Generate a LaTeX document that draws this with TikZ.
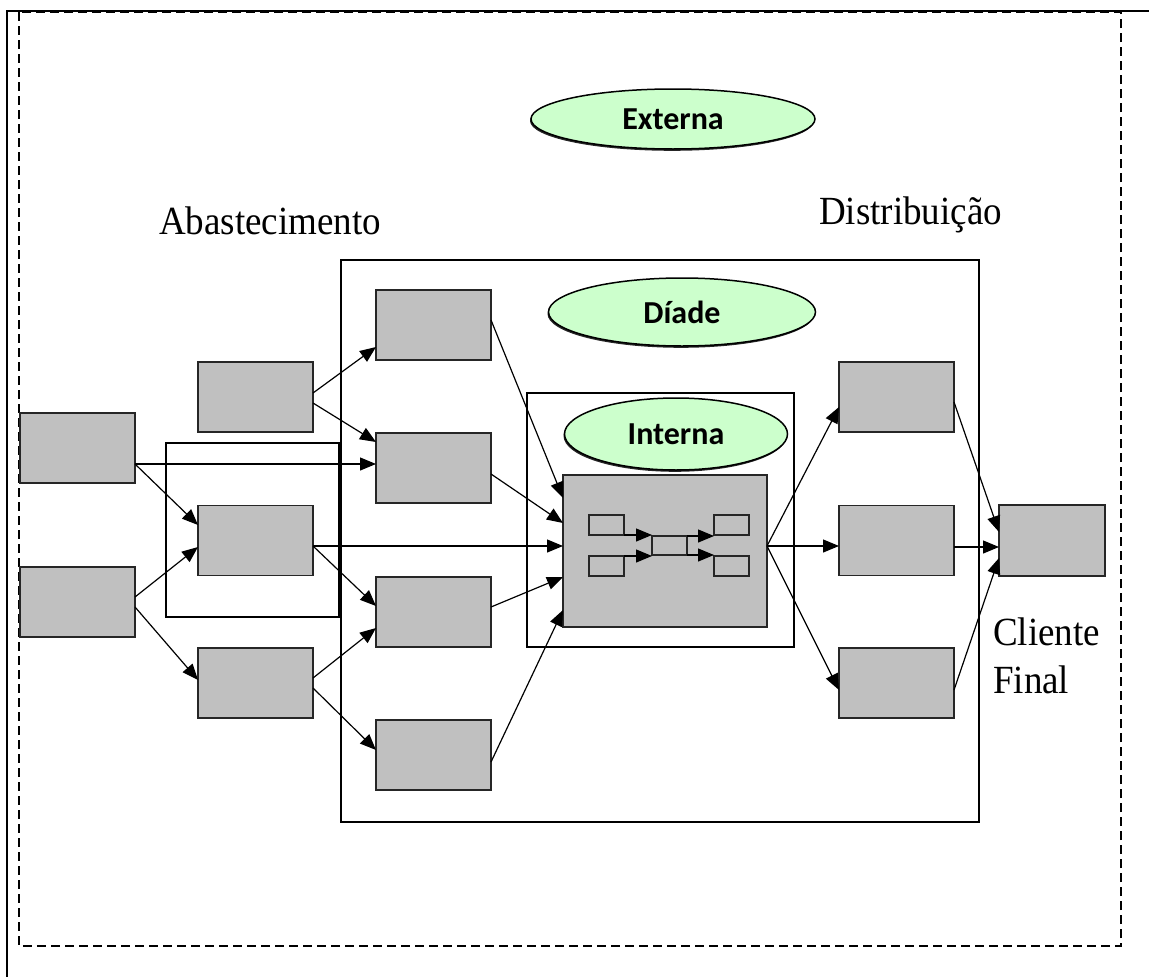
\documentclass[tikz,border=0pt]{standalone}
\usepackage{fontspec}
\setmainfont{Liberation Serif}
\newfontfamily\calib{Carlito}
\usetikzlibrary{arrows.meta,shadows,shapes.geometric,calc}
\definecolor{boxgray}{HTML}{C0C0C0}
\definecolor{ovalgreen}{HTML}{CCFFCC}
\newcommand{\tallerText}[1]{\scalebox{1}[1.08]{#1}}
\begin{document}
\begin{tikzpicture}[x=1pt,y=-1pt,
  box/.style={draw=black!85, line width=1.4pt, fill=boxgray, minimum width=115pt, minimum height=70pt, inner sep=0pt, outer sep=0pt},
  sbox/.style={draw=black!85, line width=1.2pt, fill=boxgray, minimum width=35pt, minimum height=20pt, inner sep=0pt, outer sep=0pt},
  frame/.style={draw=black, line width=1.2pt},
  oval/.style={ellipse, draw=black, line width=1.5pt, fill=ovalgreen, inner sep=0pt,
    font=\calib\bfseries\fontsize{32}{34}\selectfont,
    drop shadow={shadow xshift=-1pt, shadow yshift=-1.8pt, fill=black, opacity=0.85}},
  arr/.style={-{Triangle[length=16pt,width=13pt]}, line width=1.2pt},
  lbl/.style={font=\fontsize{37}{40}\selectfont, inner sep=0pt, anchor=base west}]
\useasboundingbox (0,0) rectangle (1149,977);
% outer borders
\draw[line width=2.5pt] (7,977) -- (7,11) -- (1149,11);
\draw[line width=1.8pt, dash pattern=on 9pt off 5pt] (19,12) rectangle (1121,946);
% frames
\draw[frame] (341,260) rectangle (979,822);
\draw[frame] (527,393) rectangle (794,647);
\draw[frame] (166,443) rectangle (339,617);
% labels
\node[lbl] (abast) at (159,234) {\tallerText{Abastecimento}};
\node[lbl] (distr) at (819,224) {\tallerText{Distribuição}};
\node[lbl] (cli) at (993,645) {\tallerText{Cliente}};
\node[lbl] (fin) at (993,693) {\tallerText{Final}};
% ellipses
\node[oval, minimum width=284pt, minimum height=60pt] (ext) at (673,119) {Externa};
\node[oval, minimum width=267pt, minimum height=68pt] (dia) at (682,312) {Díade};
\node[oval, minimum width=223pt, minimum height=72pt] (int) at (676,434) {Interna};
% boxes
\node[box] (A1) at (77.5,448) {};
\node[box] (A2) at (77.5,602) {};
\node[box] (B1) at (255.5,397) {};
\node[box] (B2) at (255.5,540.5) {};
\node[box] (B3) at (255.5,683) {};
\node[box] (C1) at (433.5,325) {};
\node[box] (C2) at (433.5,468) {};
\node[box] (C3) at (433.5,612) {};
\node[box] (C4) at (433.5,755) {};
\node[box] (D1) at (896.5,397) {};
\node[box] (D2) at (896.5,540.5) {};
\node[box] (D3) at (896.5,683) {};
\node[box, minimum width=106pt, minimum height=71pt] (E) at (1052,540.5) {};
\node[box, minimum width=204pt, minimum height=152pt] (X) at (665,551) {};
% inner small boxes
\node[sbox] (l1) at (606.5,525) {};
\node[sbox] (l2) at (606.5,566) {};
\node[sbox, minimum height=19pt] (m) at (669.5,545.5) {};
\node[sbox] (r1) at (731.5,525) {};
\node[sbox] (r2) at (731.5,566) {};
\draw[arr] (l1.south east) -- (l1.south east -| m.west);
\draw[arr] (l2.north east) -- (l2.north east -| m.west);
\draw[arr] (m.north east) -- (m.north east -| r1.west);
\draw[arr] (m.south east) -- (m.south east -| r2.west);
% connectors
\draw[arr] ([yshift=4pt]B1.east) -- ([yshift=-22pt]C1.west);
\draw[arr] ([yshift=-6pt]B1.east) -- ([yshift=26pt]C2.west);
\draw[arr] ([yshift=-16pt]A1.east) -- ([yshift=4pt]C2.west);
\draw[arr] ([yshift=-16pt]A1.east) -- ([yshift=15.5pt]B2.west);
\draw[arr] ([yshift=5pt]A2.east) -- ([yshift=-6.5pt]B2.west);
\draw[arr] ([yshift=-5pt]A2.east) -- ([yshift=3pt]B3.west);
\draw[arr] ([yshift=-5.5pt]B2.east) -- ([yshift=5pt]X.west);
\draw[arr] ([yshift=-5.5pt]B2.east) -- ([yshift=6pt]C3.west);
\draw[arr] ([yshift=5pt]B3.east) -- ([yshift=-16pt]C3.west);
\draw[arr] ([yshift=-5pt]B3.east) -- ([yshift=5pt]C4.west);
\draw[arr] ([yshift=5pt]C1.east) -- ([yshift=53pt]X.west);
\draw[arr] ([yshift=-6pt]C2.east) -- ([yshift=28pt]X.west);
\draw[arr] ([yshift=5pt]C3.east) -- ([yshift=-26pt]X.west);
\draw[arr] ([yshift=-7pt]C4.east) -- ([yshift=-59pt]X.west);
\draw[arr] ([yshift=5pt]X.east) -- ([yshift=-10pt]D1.west);
\draw[arr] ([yshift=5pt]X.east) -- ([yshift=-5.5pt]D2.west);
\draw[arr] ([yshift=5pt]X.east) -- ([yshift=-7pt]D3.west);
\draw[arr] ([yshift=-5pt]D1.east) -- ([yshift=8.5pt]E.west);
\draw[arr] ([yshift=-6.5pt]D2.east) -- ([yshift=-6.5pt]E.west);
\draw[arr] ([yshift=-7pt]D3.east) -- ([yshift=-17.5pt]E.west);
\end{tikzpicture}
\end{document}
